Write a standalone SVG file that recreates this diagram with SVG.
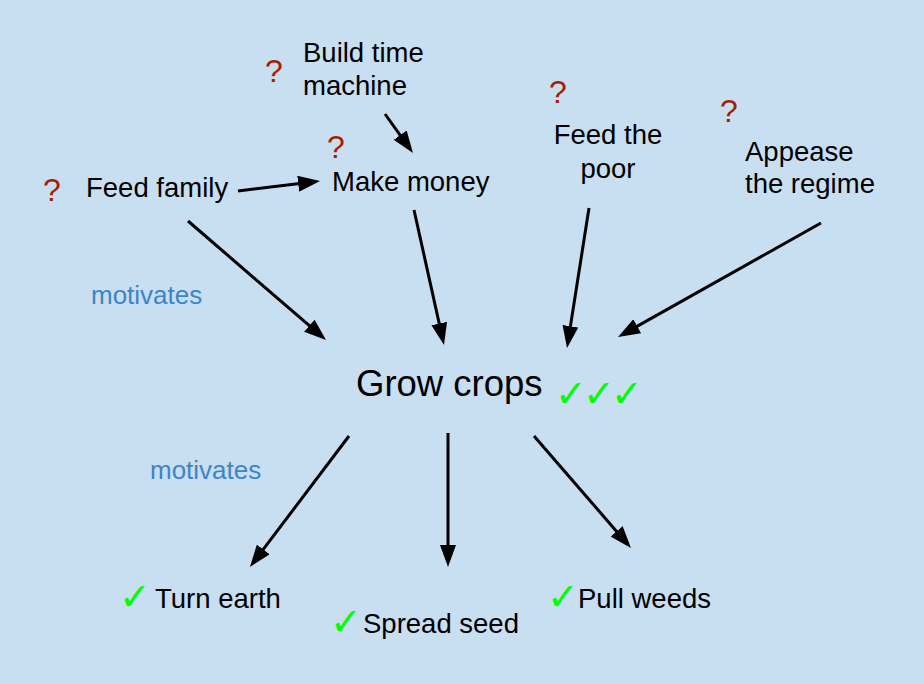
<svg xmlns="http://www.w3.org/2000/svg" width="924" height="684" viewBox="0 0 924 684">
<style>
.t{font-family:"Liberation Sans",Arial,sans-serif;font-size:27.5px;fill:#000}
.big{font-size:36.5px}
.q{font-family:"Liberation Sans",Arial,sans-serif;font-size:32px;fill:#a61c00}
.m{font-family:"Liberation Sans",Arial,sans-serif;font-size:26px;fill:#3d85c6}
.c{font-family:"DejaVu Sans",sans-serif;font-size:38px;font-weight:bold;fill:#00ff00}
.e line{stroke:#000;stroke-width:3;marker-end:url(#ah)}
</style>
<defs>
<marker id="ah" markerUnits="userSpaceOnUse" markerWidth="22" markerHeight="16" viewBox="0 0 22 16" refX="10" refY="8" orient="auto">
<path d="M0,0 L22,8 L0,16 z" fill="#000"/>
</marker>
</defs>
<rect width="924" height="684" fill="#c8def1"/>
<g id="connectors" class="e">
<line x1="238" y1="191" x2="308.1" y2="182.5"/>
<line x1="385" y1="114" x2="406" y2="143.3"/>
<line x1="188" y1="221" x2="316.9" y2="332.2"/>
<line x1="414" y1="210" x2="441.4" y2="333.3"/>
<line x1="589" y1="208" x2="568.9" y2="336.1"/>
<line x1="821" y1="223" x2="628.5" y2="331.1"/>
<line x1="349" y1="436" x2="257.2" y2="557.4"/>
<line x1="448" y1="433" x2="448" y2="555"/>
<line x1="534" y1="436" x2="623.1" y2="538.9"/>
</g>
<g id="labels">
<text class="m" x="91" y="304">motivates</text>
<text class="m" x="150" y="479">motivates</text>
</g>
<g id="feed-family">
<text class="q" x="43" y="201">?</text>
<text class="t" x="86" y="197">Feed family</text>
</g>
<g id="build-time-machine">
<text class="q" x="265" y="82">?</text>
<text class="t" x="303" y="62">Build time</text>
<text class="t" x="303" y="95">machine</text>
</g>
<g id="make-money">
<text class="q" x="327" y="158">?</text>
<text class="t" x="332" y="191">Make money</text>
</g>
<g id="feed-the-poor">
<text class="q" x="549" y="103">?</text>
<text class="t" x="608" y="144" text-anchor="middle">Feed the</text>
<text class="t" x="608" y="178" text-anchor="middle">poor</text>
</g>
<g id="appease-the-regime">
<text class="q" x="720" y="122">?</text>
<text class="t" x="745" y="161">Appease</text>
<text class="t" x="745" y="193">the regime</text>
</g>
<g id="grow-crops">
<text class="t big" x="356" y="396">Grow crops</text>
<text class="c" x="555 583 611" y="407">✓✓✓</text>
</g>
<g id="turn-earth">
<text class="c" x="119" y="610">✓</text>
<text class="t" x="155" y="608">Turn earth</text>
</g>
<g id="spread-seed">
<text class="c" x="330" y="635">✓</text>
<text class="t" x="363" y="633">Spread seed</text>
</g>
<g id="pull-weeds">
<text class="c" x="547" y="610">✓</text>
<text class="t" x="578" y="608">Pull weeds</text>
</g>
</svg>
